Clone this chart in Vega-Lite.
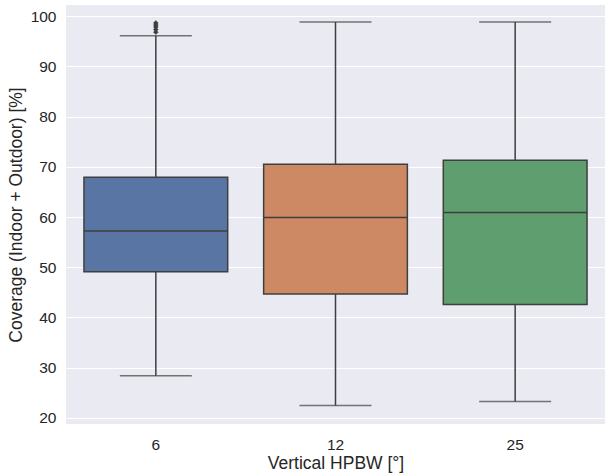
{
  "$schema": "https://vega.github.io/schema/vega-lite/v6.json",
  "width": 539,
  "height": 419,
  "autosize": {"type": "none"},
  "padding": {"left": 66, "top": 5, "right": 0, "bottom": 49},
  "background": "white",
  "config": {
    "view": {"fill": "#eaeaf2", "stroke": null},
    "font": "Liberation Sans",
    "axis": {"gridColor": "white", "gridWidth": 1, "domain": false, "ticks": false, "labelColor": "#262626", "titleColor": "#262626", "labelFontSize": 15.5, "titleFontSize": 17.5, "titleFontWeight": "normal"}
  },
  "datasets": {
    "boxes": [
      {"hpbw": "6", "lower": 28.4, "q1": 49.1, "median": 57.2, "q3": 67.9, "upper": 96.1},
      {"hpbw": "12", "lower": 22.5, "q1": 44.7, "median": 59.9, "q3": 70.5, "upper": 98.8},
      {"hpbw": "25", "lower": 23.3, "q1": 42.6, "median": 60.9, "q3": 71.3, "upper": 98.8}
    ],
    "outliers": [
      {"hpbw": "6", "value": 96.8},
      {"hpbw": "6", "value": 97.3},
      {"hpbw": "6", "value": 97.8},
      {"hpbw": "6", "value": 98.2},
      {"hpbw": "6", "value": 98.6}
    ]
  },
  "layer": [
    {
      "data": {"name": "boxes"},
      "mark": {"type": "rule", "color": "#3f3f3f", "strokeWidth": 1.5},
      "encoding": {
        "x": {"field": "hpbw", "type": "nominal", "sort": ["6", "12", "25"], "scale": {"paddingInner": 0, "paddingOuter": 0}, "axis": {"labelAngle": 0, "labelPadding": 13, "title": "Vertical HPBW [°]", "titlePadding": 2, "grid": false}},
        "y": {"field": "lower", "type": "quantitative", "scale": {"domain": [18.8, 102.2], "nice": false, "zero": false}, "axis": {"values": [20, 30, 40, 50, 60, 70, 80, 90, 100], "title": "Coverage (Indoor + Outdoor) [%]", "labelPadding": 10, "titlePadding": 5}},
        "y2": {"field": "upper"}
      }
    },
    {
      "data": {"name": "boxes"},
      "mark": {"type": "tick", "color": "#3f3f3f", "thickness": 1.5, "size": 72},
      "encoding": {
        "x": {"field": "hpbw", "type": "nominal", "sort": ["6", "12", "25"]},
        "y": {"field": "lower", "type": "quantitative"}
      }
    },
    {
      "data": {"name": "boxes"},
      "mark": {"type": "tick", "color": "#3f3f3f", "thickness": 1.5, "size": 72},
      "encoding": {
        "x": {"field": "hpbw", "type": "nominal", "sort": ["6", "12", "25"]},
        "y": {"field": "upper", "type": "quantitative"}
      }
    },
    {
      "data": {"name": "boxes"},
      "mark": {"type": "bar", "width": {"band": 0.8}, "stroke": "#3f3f3f", "strokeWidth": 1.5},
      "encoding": {
        "x": {"field": "hpbw", "type": "nominal", "sort": ["6", "12", "25"]},
        "y": {"field": "q1", "type": "quantitative"},
        "y2": {"field": "q3"},
        "color": {"field": "hpbw", "type": "nominal", "sort": ["6", "12", "25"], "scale": {"domain": ["6", "12", "25"], "range": ["#5975a4", "#cc8963", "#5f9e6e"]}, "legend": null}
      }
    },
    {
      "data": {"name": "boxes"},
      "mark": {"type": "tick", "color": "#3f3f3f", "thickness": 1.5, "size": 144, "opacity": 1},
      "encoding": {
        "x": {"field": "hpbw", "type": "nominal", "sort": ["6", "12", "25"]},
        "y": {"field": "median", "type": "quantitative"}
      }
    },
    {
      "data": {"name": "outliers"},
      "mark": {"type": "point", "shape": "diamond", "filled": true, "color": "#3f3f3f", "size": 30, "opacity": 1},
      "encoding": {
        "x": {"field": "hpbw", "type": "nominal", "sort": ["6", "12", "25"]},
        "y": {"field": "value", "type": "quantitative"}
      }
    }
  ]
}
